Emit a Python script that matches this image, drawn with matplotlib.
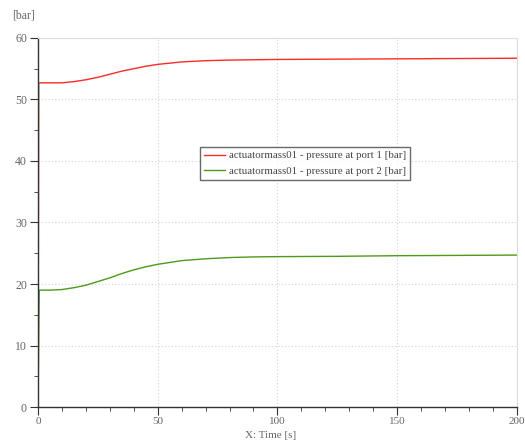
import matplotlib
matplotlib.use('Agg')
import matplotlib.pyplot as plt
from matplotlib.ticker import MultipleLocator

# time [s] and pressures [bar]
t = [0, 0.3, 5, 10, 15, 20, 25, 30, 35, 40, 45, 50, 55, 60, 70, 80, 90, 100, 125, 150, 175, 200]
p1 = [0, 52.7, 52.7, 52.7, 52.9, 53.2, 53.6, 54.1, 54.6, 55.0, 55.4, 55.7, 55.9, 56.1, 56.3, 56.4, 56.45, 56.5, 56.55, 56.6, 56.65, 56.7]
t2 = [0, 0.5, 5, 10, 15, 20, 25, 30, 35, 40, 45, 50, 55, 60, 70, 80, 90, 100, 125, 150, 175, 200]
p2 = [0, 19.0, 19.0, 19.1, 19.4, 19.8, 20.4, 21.0, 21.7, 22.3, 22.8, 23.2, 23.5, 23.8, 24.1, 24.3, 24.4, 24.45, 24.5, 24.6, 24.65, 24.7]

labels = ["actuatormass01 - pressure at port 1 [bar]",
          "actuatormass01 - pressure at port 2 [bar]"]

plt.rcParams['font.family'] = ['Liberation Serif', 'DejaVu Serif']

fig = plt.figure(figsize=(5.25, 4.41), dpi=100)
ax = fig.add_axes([0.0724, 0.077, 0.912, 0.837])

ax.plot(t, p1, color='#ff2a2a', lw=1.0, label=labels[0])
ax.plot(t2, p2, color='#4e9a18', lw=1.0, label=labels[1])

ax.set_xlim(0, 200)
ax.set_ylim(0, 60)
ax.xaxis.set_major_locator(MultipleLocator(50))
ax.xaxis.set_minor_locator(MultipleLocator(10))
ax.yaxis.set_major_locator(MultipleLocator(10))
ax.yaxis.set_minor_locator(MultipleLocator(5))
ax.grid(True, which='major', linestyle=(0, (1, 2)), color='#d4d4d4', lw=0.8)

for s in ['top', 'right']:
    ax.spines[s].set_color('#dddddd')
for s in ['left', 'bottom']:
    ax.spines[s].set_color('#333333')
    ax.spines[s].set_linewidth(1.0)

ax.tick_params(which='major', length=6, color='#333333', labelsize=8.5, labelcolor='#666666', pad=2)
ax.tick_params(axis='x', which='major', labelsize=8, pad=1)
ax.tick_params(which='minor', length=3, color='#333333')

ax.text(-0.054, 1.062, "[bar]", transform=ax.transAxes, fontsize=8.5, color='#666666', va='center')
fig.text(0.515, 0.012, "X: Time [s]", fontsize=8, color='#666666', ha='center', va='center')

leg = ax.legend(loc='center', bbox_to_anchor=(0.557, 0.66), fontsize=7.8,
                frameon=True, fancybox=False, handlelength=2.0, handletextpad=0.3,
                borderpad=0.35, labelspacing=0.55)
leg.get_frame().set_edgecolor('#444444')
leg.get_frame().set_linewidth(1.0)
for txt in leg.get_texts():
    txt.set_color('#444444')

plt.savefig("out.png", dpi=100)
